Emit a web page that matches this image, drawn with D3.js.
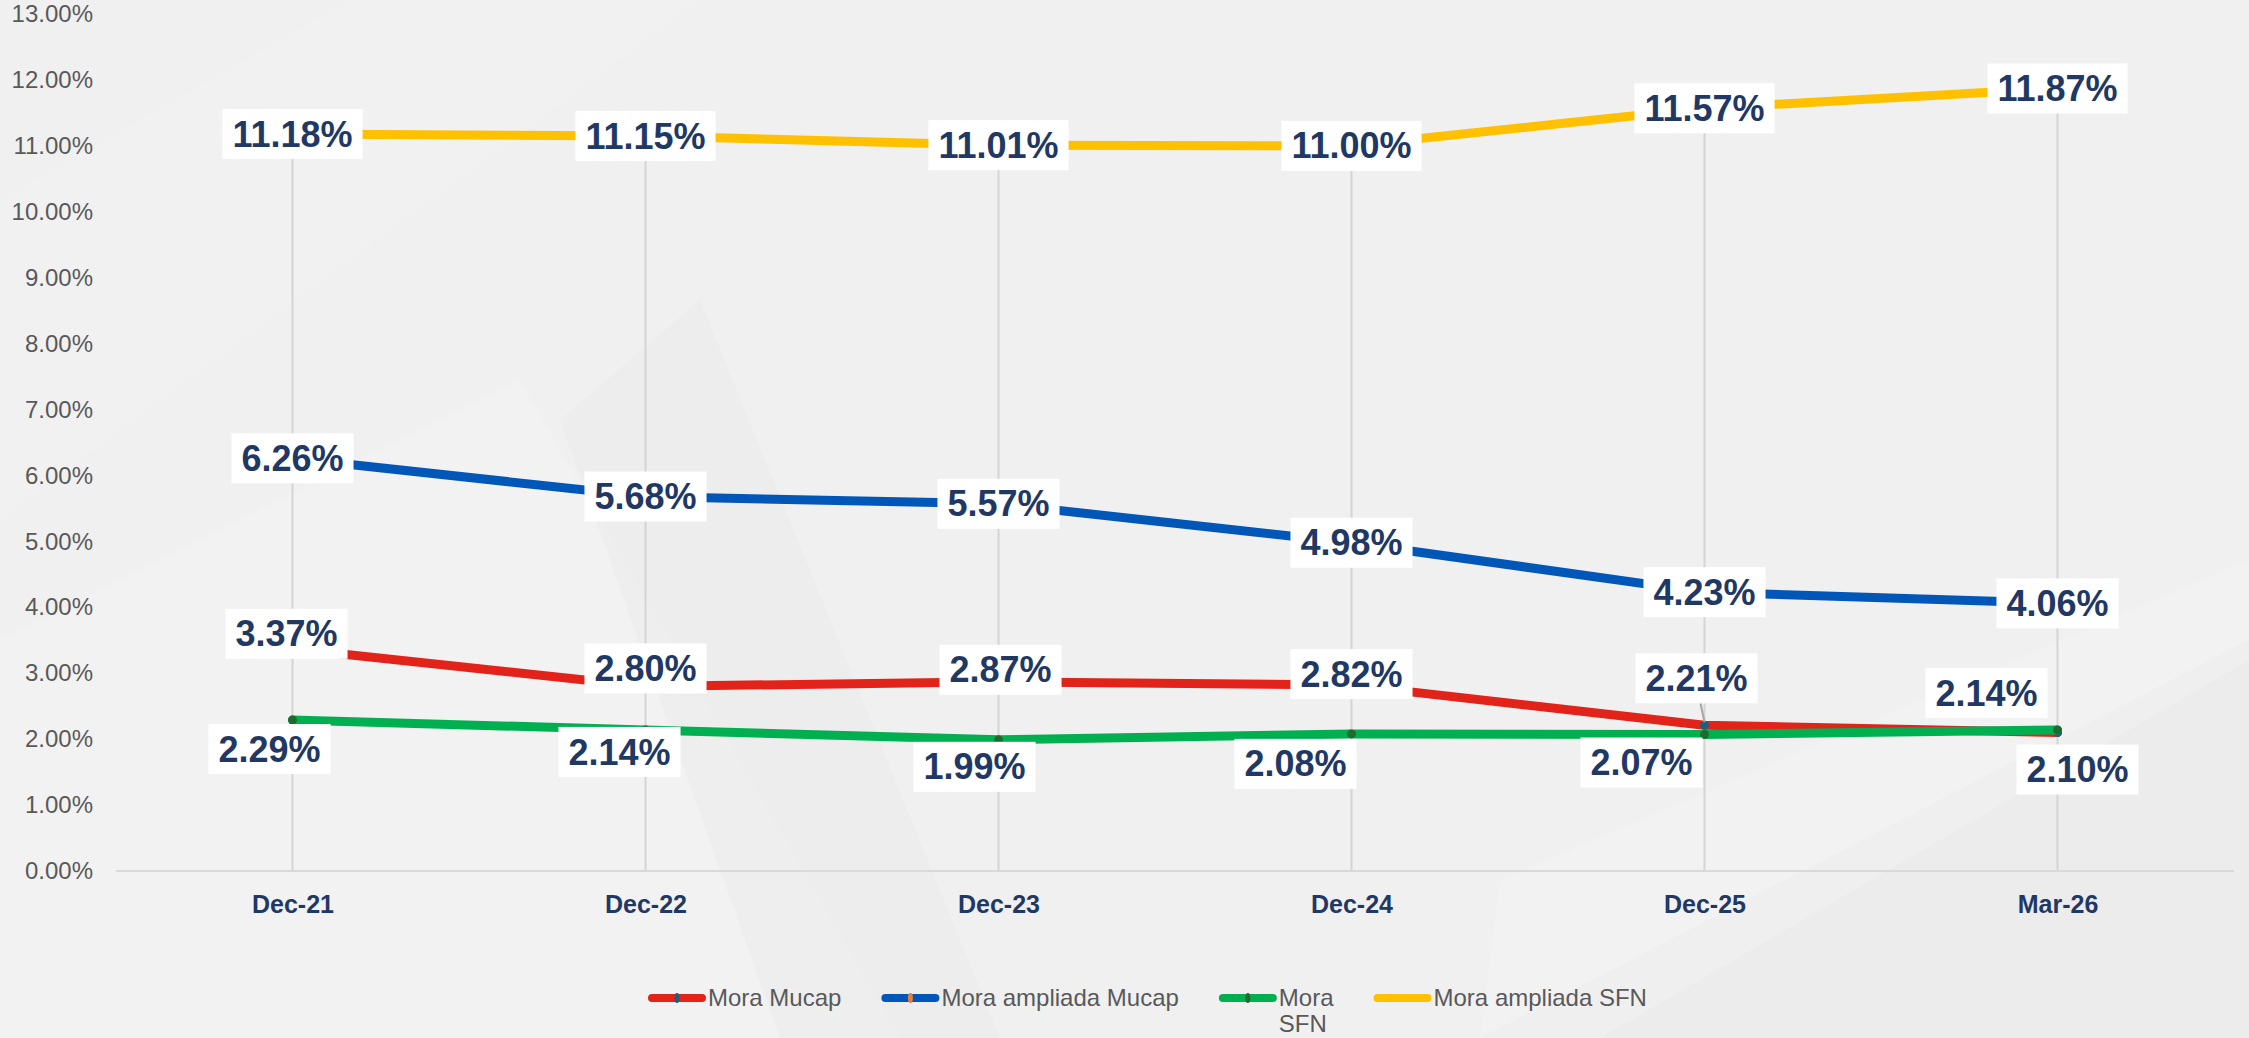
<!DOCTYPE html>
<html>
<head>
<meta charset="utf-8">
<script src="https://cdn.jsdelivr.net/npm/d3@7"></script>
<style>
  html, body { margin: 0; padding: 0; background: #f0f0f0; }
  svg { display: block; font-family: "Liberation Sans", Arial, sans-serif; }
</style>
</head>
<body>
<div id="chart"></div>
<script>
const categories = ["Dec-21", "Dec-22", "Dec-23", "Dec-24", "Dec-25", "Mar-26"];
const moraMucap = [3.37, 2.80, 2.87, 2.82, 2.21, 2.10];
const moraAmpliadaMucap = [6.26, 5.68, 5.57, 4.98, 4.23, 4.06];
const moraSFN = [2.29, 2.14, 1.99, 2.08, 2.07, 2.14];
const moraAmpliadaSFN = [11.18, 11.15, 11.01, 11.00, 11.57, 11.87];
const seriesNames = ["Mora Mucap", "Mora ampliada Mucap", "Mora\nSFN", "Mora ampliada SFN"];

// colours / label nudges (layout only)
const colors = ["#e2231a", "#0057b8", "#00b050", "#ffc000"];
const markerColors = ["#1f5f7a", "#ed7d31", "#1e6b30", null];
const labelNudge = [
  [[-6,-15],[0,-18],[2,-12],[0,-11],[-8,-47],[20,37]],
  [[0,0],[0,0],[0,0],[0,0],[0,0],[0,0]],
  [[-23,29],[-26,22],[-24,27],[-56,30],[-63,28],[-71,-37]],
  [[0,0],[0,0],[0,0],[0,0],[0,0],[0,0]]
];

const width = 2249, height = 1038;
const allSeries = [moraMucap, moraAmpliadaMucap, moraSFN, moraAmpliadaSFN];

const svg = d3.select("#chart").append("svg")
  .attr("width", width).attr("height", height);

// background with soft diagonal shapes
const bg = svg.append("g");
bg.append("rect").attr("width", width).attr("height", height).attr("fill", "#f0f0f0");
bg.append("path").attr("d", "M0,640 L520,380 L900,1038 L0,1038 Z").attr("fill", "#f4f4f4").attr("opacity", 0.6);
bg.append("path").attr("d", "M700,300 L1000,1038 L780,1038 L560,420 Z").attr("fill", "#e9e9e9").attr("opacity", 0.4);
bg.append("path").attr("d", "M1480,1038 L2249,640 L2249,1038 Z").attr("fill", "#e8e8e8").attr("opacity", 0.5);
bg.append("path").attr("d", "M1500,880 L2249,560 L2249,660 L1600,1038 L1480,1038 Z").attr("fill", "#f5f5f5").attr("opacity", 0.4);
bg.append("path").attr("d", "M0,200 L350,0 L700,0 L0,520 Z").attr("fill", "#f3f3f3").attr("opacity", 0.4);

const x = d3.scalePoint().domain(categories).range([116, 2234]).padding(0.5);
const y = d3.scaleLinear().domain([0, 13]).range([871, 14]);

// y axis labels
const yAxis = svg.append("g").attr("transform", "translate(93,0)")
  .call(d3.axisLeft(y).ticks(13).tickFormat(d => d.toFixed(2) + "%").tickSize(0).tickPadding(0));
yAxis.select(".domain").remove();
yAxis.selectAll("text").attr("fill", "#595959").style("font-size", "24px")
  .style("font-family", "Liberation Sans, Arial, sans-serif");

// drop lines from the top series to the axis
svg.append("g").selectAll("line").data(categories).join("line")
  .attr("x1", d => x(d)).attr("x2", d => x(d))
  .attr("y1", (d, i) => y(d3.max(allSeries, s => s[i])))
  .attr("y2", y(0))
  .attr("stroke", "#d4d4d4").attr("stroke-width", 2);

// x axis
const xAxis = svg.append("g").attr("transform", `translate(0,${y(0)})`)
  .call(d3.axisBottom(x).tickSize(0).tickPadding(24));
xAxis.select(".domain").attr("d", `M116,0H2234`).attr("stroke", "#d9d9d9").attr("stroke-width", 2);
xAxis.selectAll("text").attr("fill", "#1f3864").style("font-size", "25px").style("font-weight", "bold")
  .style("font-family", "Liberation Sans, Arial, sans-serif");

// lines
const line = d3.line().x((d, i) => x(categories[i])).y(d => y(d));
allSeries.forEach((s, k) => {
  svg.append("path").datum(s)
    .attr("d", line).attr("fill", "none")
    .attr("stroke", colors[k]).attr("stroke-width", 9)
    .attr("stroke-linejoin", "round").attr("stroke-linecap", "round");
  if (markerColors[k]) {
    svg.append("g").selectAll("circle").data(s).join("circle")
      .attr("cx", (d, i) => x(categories[i])).attr("cy", d => y(d))
      .attr("r", 4.5).attr("fill", markerColors[k]);
  }
});

// leader line for Dec-25 Mora Mucap
{
  const i = 4, n = labelNudge[0][i];
  svg.append("line")
    .attr("x1", x(categories[i]) + n[0] + 4).attr("y1", y(moraMucap[i]) + n[1] + 25)
    .attr("x2", x(categories[i])).attr("y2", y(moraMucap[i]) - 3)
    .attr("stroke", "#a6a6a6").attr("stroke-width", 2);
}

// data labels
const labels = svg.append("g");
allSeries.forEach((s, k) => {
  s.forEach((v, i) => {
    const n = labelNudge[k][i];
    const cx = x(categories[i]) + n[0], cy = y(v) + n[1];
    const g = labels.append("g").attr("transform", `translate(${cx},${cy})`);
    const rect = g.append("rect").attr("fill", "#ffffff");
    const t = g.append("text").text(v.toFixed(2) + "%")
      .attr("text-anchor", "middle").attr("dy", "0.35em")
      .attr("fill", "#1f3864").style("font-size", "36px").style("font-weight", "bold");
    const w = t.node().getComputedTextLength() + 20;
    rect.attr("x", -w / 2).attr("y", -25).attr("width", w).attr("height", 50);
  });
});

// legend
const legend = svg.append("g").attr("transform", "translate(648,998)");
let lx = 0;
seriesNames.forEach((name, k) => {
  const g = legend.append("g").attr("transform", `translate(${lx},0)`);
  g.append("line").attr("x1", 4).attr("x2", 54).attr("y1", 0).attr("y2", 0)
    .attr("stroke", colors[k]).attr("stroke-width", 8).attr("stroke-linecap", "round");
  if (markerColors[k]) {
    g.append("ellipse").attr("cx", 29).attr("cy", 0).attr("rx", 2.5).attr("ry", 5).attr("fill", markerColors[k]);
  }
  const t = g.append("text").attr("x", 60).attr("fill", "#595959").style("font-size", "24px");
  name.split("\n").forEach((part, j) => {
    t.append("tspan").attr("x", 60).attr("y", j * 26).attr("dy", "0.35em").text(part);
  });
  const w = d3.max(t.selectAll("tspan").nodes(), nd => nd.getComputedTextLength());
  lx += 60 + w + 40;
});
</script>
</body>
</html>
